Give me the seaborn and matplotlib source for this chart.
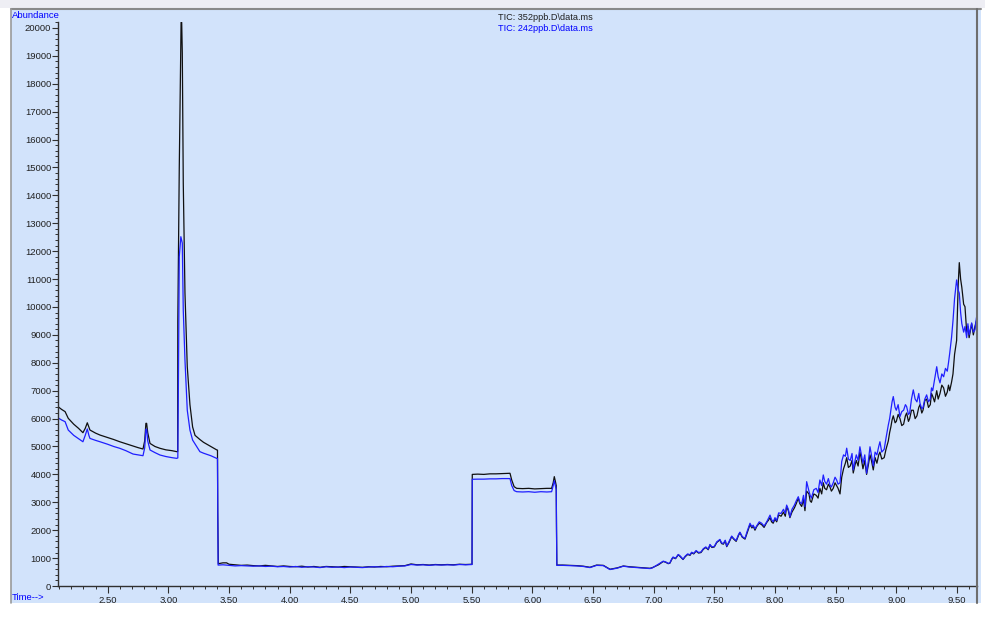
import matplotlib
matplotlib.use("Agg")
import matplotlib.pyplot as plt
from matplotlib.patches import Rectangle
from matplotlib.lines import Line2D
from matplotlib.ticker import MultipleLocator, FormatStrFormatter
import seaborn as sns
import pandas as pd

# ---------------- data (time [min], abundance) ----------------
# TIC 352ppb (black)
tic352_front = [(2.093, 6420), (2.12, 6330), (2.149, 6250), (2.175, 6010), (2.22, 5800), (2.26, 5650),
                (2.296, 5495), (2.315, 5650), (2.332, 5850), (2.345, 5700), (2.354, 5590), (2.40, 5480),
                (2.437, 5410), (2.50, 5320), (2.55, 5250), (2.60, 5170), (2.65, 5100), (2.709, 5020),
                (2.75, 4960), (2.791, 4910), (2.805, 5200), (2.815, 5830), (2.821, 5830), (2.83, 5500),
                (2.849, 5110), (2.89, 5000), (2.931, 4935), (2.98, 4880), (3.03, 4850), (3.069, 4815),
                (3.077, 4820), (3.078, 9470), (3.09, 14980), (3.105, 20200), (3.110, 20200), (3.115, 19100),
                (3.123, 14440), (3.137, 10500), (3.156, 7860), (3.178, 6500), (3.20, 5700), (3.22, 5400),
                (3.26, 5250), (3.29, 5150), (3.35, 5000), (3.398, 4880), (3.405, 4870), (3.407, 2650),
                (3.412, 800)]
tic352_base = [(3.45, 830), (3.48, 830), (3.50, 780), (3.55, 760), (3.60, 740), (3.65, 750), (3.70, 730),
               (3.75, 720), (3.80, 740), (3.85, 720), (3.90, 700), (3.95, 720), (4.00, 700), (4.05, 690),
               (4.10, 710), (4.15, 680), (4.20, 700), (4.25, 670), (4.30, 700), (4.35, 690), (4.40, 680),
               (4.45, 700), (4.50, 690), (4.55, 680), (4.60, 670), (4.65, 690), (4.70, 680), (4.75, 700),
               (4.80, 690), (4.85, 710), (4.90, 720), (4.95, 730), (5.00, 790), (5.05, 760), (5.10, 770),
               (5.15, 750), (5.20, 770), (5.25, 760), (5.30, 770), (5.35, 760), (5.40, 780), (5.45, 770),
               (5.50, 780), (5.503, 780)]
tic352_step = [(5.505, 4000), (5.55, 4010), (5.60, 4000), (5.65, 4020), (5.70, 4020), (5.75, 4030),
               (5.80, 4040), (5.816, 4040), (5.83, 3800), (5.85, 3560), (5.871, 3500), (5.92, 3490),
               (5.97, 3500), (6.02, 3480), (6.07, 3490), (6.12, 3500), (6.159, 3500), (6.172, 3700),
               (6.181, 3920), (6.19, 3750), (6.197, 3600), (6.199, 2100), (6.202, 750)]
tic352_tail = [(6.25, 750), (6.30, 740), (6.365, 730), (6.42, 710), (6.475, 670), (6.53, 750), (6.585, 740),
               (6.64, 600), (6.70, 650), (6.75, 717), (6.80, 690), (6.86, 670), (6.92, 650), (6.97, 634),
               (6.99, 660), (7.02, 720), (7.04, 760), (7.06, 820), (7.079, 880), (7.10, 850), (7.12, 800),
               (7.134, 820), (7.15, 960), (7.16, 1020), (7.18, 980), (7.203, 1120), (7.22, 1050),
               (7.242, 950), (7.26, 1050), (7.28, 1130), (7.30, 1100), (7.313, 1195), (7.33, 1150),
               (7.35, 1250), (7.37, 1180), (7.39, 1200), (7.41, 1320), (7.43, 1380), (7.45, 1300),
               (7.464, 1470), (7.48, 1380), (7.50, 1400), (7.52, 1560), (7.546, 1650), (7.56, 1520),
               (7.575, 1500), (7.59, 1620), (7.602, 1410), (7.62, 1550), (7.643, 1770), (7.66, 1680),
               (7.68, 1600), (7.70, 1820), (7.711, 1910), (7.73, 1750), (7.753, 1680), (7.77, 1900),
               (7.794, 2200), (7.81, 2080), (7.82, 2150), (7.835, 2000), (7.849, 2130), (7.87, 2250),
               (7.89, 2200), (7.91, 2100), (7.932, 2280), (7.945, 2350), (7.959, 2450), (7.972, 2300),
               (7.985, 2250), (8.00, 2400), (8.014, 2300), (8.03, 2550), (8.05, 2500), (8.07, 2650),
               (8.085, 2500), (8.096, 2850), (8.11, 2700), (8.123, 2450), (8.14, 2650), (8.16, 2800),
               (8.175, 2950), (8.192, 3150), (8.205, 2950), (8.22, 2850), (8.235, 3100), (8.247, 2700),
               (8.261, 3400), (8.28, 3300), (8.29, 3050), (8.30, 3000), (8.32, 3300), (8.34, 3250),
               (8.355, 3150), (8.37, 3500), (8.385, 3300), (8.398, 3700), (8.41, 3500), (8.425, 3450),
               (8.44, 3650), (8.453, 3550), (8.465, 3400), (8.48, 3500), (8.495, 3700), (8.508, 3600),
               (8.52, 3500), (8.536, 3300), (8.55, 3900), (8.565, 4200), (8.58, 4400), (8.591, 4600),
               (8.605, 4250), (8.62, 4300), (8.635, 4500), (8.645, 4050), (8.66, 4350), (8.67, 4500),
               (8.685, 4300), (8.70, 4800), (8.71, 4600), (8.725, 4200), (8.74, 4500), (8.755, 4000),
               (8.77, 4350), (8.783, 4700), (8.795, 4500), (8.81, 4160), (8.825, 4600), (8.84, 4400),
               (8.855, 4700), (8.865, 4800), (8.88, 4550), (8.90, 4600), (8.915, 4900), (8.934, 5200),
               (8.945, 5500), (8.955, 5700), (8.965, 5950), (8.975, 6100), (8.99, 5850), (9.00, 5900),
               (9.015, 6150), (9.03, 6000), (9.045, 5750), (9.06, 5800), (9.075, 6100), (9.085, 6200),
               (9.10, 5900), (9.11, 6000), (9.125, 6300), (9.14, 6300), (9.155, 6000), (9.17, 6100),
               (9.185, 6400), (9.195, 6500), (9.21, 6200), (9.22, 6300), (9.235, 6650), (9.25, 6700),
               (9.265, 6400), (9.28, 6500), (9.29, 6900), (9.30, 6800), (9.315, 6600), (9.333, 7000),
               (9.345, 6700), (9.36, 6900), (9.375, 7200), (9.39, 7100), (9.405, 6800), (9.42, 6950),
               (9.43, 7200), (9.44, 7000), (9.455, 7300), (9.467, 7600), (9.48, 8300), (9.497, 8800),
               (9.51, 10800), (9.519, 11590), (9.53, 11000), (9.54, 10700), (9.555, 10100), (9.566, 10010),
               (9.58, 9100), (9.59, 9300), (9.60, 8900), (9.621, 9400), (9.635, 9000), (9.648, 9300),
               (9.66, 9500), (9.675, 9700)]

# TIC 242ppb (blue)
tic242_front = [(2.093, 6020), (2.12, 5950), (2.149, 5890), (2.175, 5590), (2.22, 5400), (2.26, 5280),
                (2.296, 5170), (2.315, 5400), (2.332, 5630), (2.345, 5400), (2.354, 5290), (2.40, 5220),
                (2.437, 5170), (2.50, 5080), (2.55, 5000), (2.60, 4935), (2.65, 4850), (2.709, 4730),
                (2.75, 4700), (2.791, 4670), (2.805, 4950), (2.815, 5620), (2.821, 5620), (2.83, 5200),
                (2.849, 4875), (2.89, 4780), (2.931, 4695), (2.98, 4640), (3.03, 4600), (3.069, 4575),
                (3.078, 4590), (3.082, 6670), (3.09, 11800), (3.103, 12520), (3.115, 12290), (3.123, 9890),
                (3.137, 8100), (3.156, 6300), (3.178, 5590), (3.20, 5230), (3.26, 4815), (3.29, 4760),
                (3.35, 4670), (3.398, 4575), (3.405, 4570), (3.41, 750)]
tic242_base = [(3.45, 760), (3.48, 750), (3.50, 740), (3.55, 720), (3.60, 730), (3.65, 720), (3.70, 710),
               (3.75, 720), (3.80, 700), (3.85, 710), (3.90, 690), (3.95, 700), (4.00, 680), (4.05, 700),
               (4.10, 670), (4.15, 690), (4.20, 680), (4.25, 660), (4.30, 690), (4.35, 670), (4.40, 680),
               (4.45, 660), (4.50, 680), (4.55, 670), (4.60, 660), (4.65, 680), (4.70, 690), (4.75, 680),
               (4.80, 700), (4.85, 690), (4.90, 710), (4.95, 720), (5.00, 770), (5.05, 750), (5.10, 760),
               (5.15, 740), (5.20, 760), (5.25, 750), (5.30, 760), (5.35, 750), (5.40, 770), (5.45, 760),
               (5.50, 770), (5.503, 770)]
tic242_step = [(5.505, 3825), (5.55, 3830), (5.60, 3830), (5.65, 3840), (5.70, 3840), (5.75, 3850),
               (5.80, 3850), (5.816, 3850), (5.83, 3600), (5.85, 3420), (5.871, 3380), (5.92, 3370),
               (5.97, 3380), (6.02, 3360), (6.07, 3380), (6.12, 3370), (6.159, 3380), (6.172, 3600),
               (6.181, 3775), (6.19, 3600), (6.197, 3450), (6.202, 740)]
tic242_tail = [(6.25, 740), (6.30, 730), (6.365, 720), (6.42, 700), (6.475, 660), (6.53, 740), (6.585, 730),
               (6.64, 590), (6.70, 640), (6.75, 710), (6.80, 680), (6.86, 660), (6.92, 640), (6.97, 625),
               (6.99, 650), (7.02, 730), (7.04, 780), (7.06, 840), (7.079, 890), (7.10, 860), (7.12, 810),
               (7.134, 830), (7.15, 980), (7.16, 1040), (7.18, 990), (7.203, 1130), (7.22, 1070),
               (7.242, 960), (7.26, 1070), (7.28, 1150), (7.30, 1120), (7.313, 1210), (7.33, 1170),
               (7.35, 1270), (7.37, 1200), (7.39, 1220), (7.41, 1340), (7.43, 1400), (7.45, 1320),
               (7.464, 1490), (7.48, 1400), (7.50, 1420), (7.52, 1580), (7.546, 1670), (7.56, 1540),
               (7.575, 1530), (7.59, 1640), (7.602, 1430), (7.62, 1580), (7.643, 1790), (7.66, 1700),
               (7.68, 1630), (7.70, 1850), (7.711, 1930), (7.73, 1770), (7.753, 1710), (7.77, 1950),
               (7.794, 2250), (7.81, 2120), (7.82, 2180), (7.835, 2050), (7.849, 2150), (7.87, 2300),
               (7.89, 2250), (7.91, 2150), (7.932, 2300), (7.945, 2420), (7.959, 2540), (7.972, 2380),
               (7.985, 2300), (8.00, 2450), (8.014, 2350), (8.03, 2620), (8.05, 2600), (8.07, 2750),
               (8.085, 2600), (8.096, 2900), (8.11, 2750), (8.123, 2480), (8.14, 2750), (8.16, 2900),
               (8.175, 3050), (8.192, 3200), (8.205, 3000), (8.22, 2950), (8.235, 3250), (8.247, 2840),
               (8.261, 3740), (8.28, 3400), (8.29, 3250), (8.30, 3150), (8.32, 3450), (8.34, 3500),
               (8.355, 3350), (8.37, 3800), (8.385, 3600), (8.398, 3980), (8.41, 3750), (8.425, 3650),
               (8.44, 3850), (8.453, 3620), (8.465, 3550), (8.48, 3700), (8.495, 3900), (8.508, 3800),
               (8.52, 3650), (8.536, 3700), (8.55, 4460), (8.565, 4700), (8.58, 4650), (8.591, 4940),
               (8.605, 4550), (8.62, 4500), (8.635, 4750), (8.645, 4160), (8.66, 4500), (8.67, 4700),
               (8.685, 4500), (8.70, 4990), (8.71, 4750), (8.725, 4400), (8.74, 4700), (8.755, 4040),
               (8.77, 4500), (8.783, 4990), (8.795, 4700), (8.81, 4300), (8.825, 4800), (8.84, 4700),
               (8.855, 5000), (8.865, 5170), (8.88, 4800), (8.90, 4900), (8.915, 5300), (8.934, 5770),
               (8.945, 6000), (8.955, 6300), (8.965, 6600), (8.975, 6790), (8.99, 6400), (9.00, 6300),
               (9.015, 6500), (9.03, 6070), (9.045, 6250), (9.06, 6300), (9.075, 6500), (9.085, 6430),
               (9.10, 6150), (9.11, 6200), (9.125, 6700), (9.14, 7030), (9.155, 6700), (9.17, 6600),
               (9.185, 6900), (9.195, 6550), (9.21, 6350), (9.22, 6400), (9.235, 6700), (9.25, 6850),
               (9.265, 6600), (9.28, 6700), (9.29, 7100), (9.30, 7000), (9.315, 7400), (9.333, 7860),
               (9.345, 7500), (9.36, 7280), (9.375, 7600), (9.39, 7500), (9.405, 7800), (9.42, 7700),
               (9.43, 8000), (9.44, 8340), (9.455, 8900), (9.467, 9500), (9.48, 10300), (9.497, 10970),
               (9.51, 10600), (9.519, 10500), (9.53, 9800), (9.54, 9400), (9.555, 9100), (9.566, 9300),
               (9.58, 8900), (9.59, 9400), (9.60, 9000), (9.621, 9430), (9.635, 9100), (9.648, 9180),
               (9.66, 9600), (9.675, 9950)]

legend_labels = ["TIC: 352ppb.D\\data.ms", "TIC: 242ppb.D\\data.ms"]
x_ticks = [2.50, 3.00, 3.50, 4.00, 4.50, 5.00, 5.50, 6.00, 6.50, 7.00, 7.50, 8.00, 8.50, 9.00, 9.50]
y_ticks = list(range(0, 20001, 1000))

# ---------------- styling ----------------
sns.set_style("ticks")
plt.rcParams["font.family"] = ["Liberation Sans", "DejaVu Sans"]
FS = 6.8

W, H = 985, 619
fig = plt.figure(figsize=(W / 100, H / 100), dpi=100, facecolor="white")

def fx(px):
    return px / W

def fy(py):
    return 1 - py / H

PANEL = "#D2E3FB"
# window panel (drawn beneath the axes)
fig.patches.append(Rectangle((fx(11), fy(603)), fx(981) - fx(11), fy(9) - fy(603),
                             transform=fig.transFigure, facecolor=PANEL, edgecolor="none", zorder=-10))
fig.patches.append(Rectangle((0, fy(8)), 1, 1 - fy(8), transform=fig.transFigure,
                             facecolor="#EEEEF4", edgecolor="none", zorder=-10))
fig.lines.append(Line2D([fx(11), fx(981)], [fy(8.5), fy(8.5)], transform=fig.transFigure,
                        color="#8A8A8A", lw=1.5, zorder=-5))
fig.lines.append(Line2D([fx(10.5), fx(10.5)], [fy(8.5), fy(603)], transform=fig.transFigure,
                        color="#9A9A9A", lw=1.2, zorder=-5))
fig.lines.append(Line2D([fx(977), fx(977)], [fy(8.5), fy(603)], transform=fig.transFigure,
                        color="#6E6E6E", lw=1.5, zorder=5))

ax = fig.add_axes([fx(58.3), fy(586), fx(977) - fx(58.3), fy(22) - fy(586)])
ax.set_zorder(1)
ax.patch.set_visible(False)

def frame(*segments):
    pts = [p for seg in segments for p in seg]
    return pd.DataFrame({"t": [p[0] for p in pts], "v": [p[1] for p in pts]})

df_a = frame(tic352_front, tic352_base, tic352_step, tic352_tail)
df_b = frame(tic242_front, tic242_base, tic242_step, tic242_tail)
sns.lineplot(data=df_a, x="t", y="v", ax=ax, color="#101010", lw=0.9, sort=False, estimator=None)
sns.lineplot(data=df_b, x="t", y="v", ax=ax, color="#1F1FFF", lw=0.9, sort=False, estimator=None)

ax.set_xlim(2.093, 9.665)
ax.set_ylim(0, 20215)
ax.set_xlabel("")
ax.set_ylabel("")

for s in ["top", "right"]:
    ax.spines[s].set_visible(False)
for s in ["left", "bottom"]:
    ax.spines[s].set_color("#303030")
    ax.spines[s].set_linewidth(1.0)

ax.set_xticks(x_ticks)
ax.xaxis.set_major_formatter(FormatStrFormatter("%.2f"))
ax.xaxis.set_minor_locator(MultipleLocator(0.1))
ax.set_yticks(y_ticks)
ax.yaxis.set_minor_locator(MultipleLocator(200))
ax.tick_params(axis="both", which="major", direction="out", colors="#303030",
               labelcolor="#202020", labelsize=FS, width=0.8)
ax.tick_params(axis="x", which="major", length=5, pad=2)
ax.tick_params(axis="y", which="major", length=4, pad=1)
ax.tick_params(axis="both", which="minor", direction="out", length=2.2, width=0.7, colors="#303030")

# header texts
fig.text(fx(12), fy(16), "Abundance", color="#0000FF", fontsize=FS, ha="left", va="center")
fig.text(fx(12), fy(597), "Time-->", color="#0000FF", fontsize=FS, ha="left", va="center")
fig.text(fx(498), fy(17.5), legend_labels[0], color="#202020", fontsize=6.6, ha="left", va="center")
fig.text(fx(498), fy(28.5), legend_labels[1], color="#0000FF", fontsize=6.6, ha="left", va="center")

fig.savefig("out.png", dpi=100, facecolor="white")
